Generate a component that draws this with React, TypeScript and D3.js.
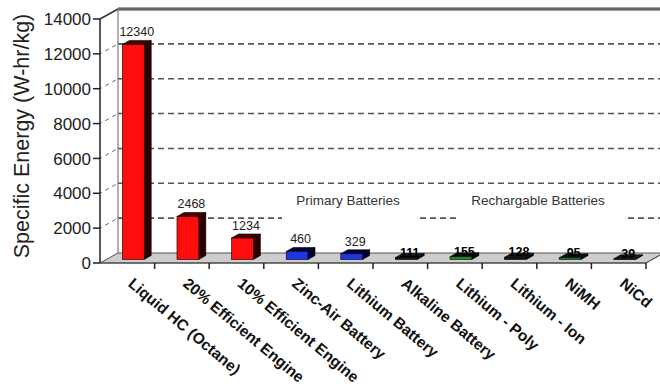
import React from 'react';
import * as d3 from 'd3';

const categories = [
  'Liquid HC (Octane)',
  '20% Efficient Engine',
  '10% Efficient Engine',
  'Zinc-Air Battery',
  'Lithium Battery',
  'Alkaline Battery',
  'Lithium - Poly',
  'Lithium - Ion',
  'NiMH',
  'NiCd',
];
const values = [12340, 2468, 1234, 460, 329, 111, 155, 128, 95, 39];
const barKinds = ['fuel', 'fuel', 'fuel', 'primary', 'primary', 'dark', 'green', 'dark', 'green', 'dark'];
const yTicks = [0, 2000, 4000, 6000, 8000, 10000, 12000, 14000];
const groupLabels = ['Primary Batteries', 'Rechargable Batteries'];

const W = 660;
const H = 392;
const DX = 18;
const DY = -10;

const palette: Record<string, { front: string; side: string; top: string }> = {
  fuel: { front: '#ff0d0d', side: '#2a0000', top: '#4a0000' },
  primary: { front: '#1f35e0', side: '#00002a', top: '#000040' },
  dark: { front: '#141414', side: '#050505', top: '#1a1a1a' },
  green: { front: '#1f8a2a', side: '#050505', top: '#111' },
};

export default function App() {
  const y = d3.scaleLinear().domain([0, 14000]).range([263, 19]);
  const x = d3.scaleBand<string>().domain(categories).range([100, 646]).padding(0);
  const bw = x.bandwidth();
  const w = bw * 0.4;
  const ox = 6, oy = -3.5, ex = 7, ey = -4;
  const y0 = y(0);
  const top = y(14000);
  const font = 'Arial, "Liberation Sans", Helvetica, sans-serif';

  const gridSegs = (v: number) => {
    if (v === 2000) return [[118, 282], [420, 456], [628, 660]];
    return [[118, 660]];
  };

  return (
    <svg width={W} height={H} style={{ position: 'absolute', left: 0, top: 0, background: '#fff' }} fontFamily={font}>
      {/* back wall top */}
      <line x1={100 + DX} x2={W} y1={top + DY} y2={top + DY} stroke="#444" strokeWidth={3} />
      <line x1={100 + DX} x2={W} y1={top + DY} y2={top + DY} stroke="#888" strokeWidth={1} />
      {/* wall left edge */}
      <line x1={100 + DX} x2={100 + DX} y1={top + DY} y2={y0 + DY} stroke="#999" strokeWidth={1.5} />
      {/* gridlines */}
      {yTicks.filter(t => t > 0 && t < 14000).map(t =>
        gridSegs(t).map(([a, b], i) => (
          <line key={`g${t}-${i}`} x1={a} x2={b} y1={y(t) + DY} y2={y(t) + DY} stroke="#555" strokeWidth={1.6} strokeDasharray="6,4" />
        ))
      )}
      {/* diagonal connectors */}
      {yTicks.filter(t => t > 0 && t < 14000).map(t => (
        <line key={`d${t}`} x1={100} y1={y(t)} x2={100 + DX} y2={y(t) + DY} stroke="#666" strokeWidth={1} strokeDasharray="4,4" strokeDashoffset={-6} />
      ))}
      <line x1={100} y1={top} x2={100 + DX} y2={top + DY} stroke="#333" strokeWidth={1.5} />
      {/* floor */}
      <polygon
        points={`100,${y0} ${100 + DX},${y0 + DY} ${W + 20},${y0 + DY} ${646 + DX},${y0 + DY} ${646},${y0}`}
        fill="#cdcdcd" stroke="#555" strokeWidth={1}
      />
      <line x1={646} y1={y0} x2={646 + 14} y2={y0 - 8} stroke="#555" strokeWidth={1} />
      {/* group labels */}
      <text x={348} y={205} textAnchor="middle" fontSize={13.5} fill="#333">{groupLabels[0]}</text>
      <text x={538} y={205} textAnchor="middle" fontSize={13.5} fill="#333">{groupLabels[1]}</text>
      {/* bars */}
      {categories.map((c, i) => {
        const v = values[i];
        const col = palette[barKinds[i]];
        const x0 = (x(c) as number) + (bw - w) / 2 + ox;
        const x1 = x0 + w;
        const yt = y(v) + oy;
        const yb = y0 + oy;
        const dark = barKinds[i] === 'dark' || barKinds[i] === 'green';
        return (
          <g key={c}>
            <polygon points={`${x1},${yt} ${x1 + ex},${yt + ey} ${x1 + ex},${yb + ey} ${x1},${yb}`} fill={col.side} stroke="#000" strokeWidth={0.6} />
            <polygon points={`${x0},${yt} ${x0 + ex},${yt + ey} ${x1 + ex},${yt + ey} ${x1},${yt}`} fill={col.top} stroke="#000" strokeWidth={0.6} />
            <rect x={x0} y={yt} width={w} height={yb - yt} fill={col.front} stroke="#000" strokeWidth={0.6} />
            <text x={x0 + w / 2 + ex / 2} y={dark ? yt + ey + 3 : yt + ey - 4} textAnchor="middle" fontSize={12.5} fill={dark ? '#000' : '#222'} fontWeight={dark ? 'bold' : 'normal'}>{v}</text>
          </g>
        );
      })}
      {/* y axis */}
      <line x1={100} x2={100} y1={top} y2={y0} stroke="#222" strokeWidth={1.5} />
      <line x1={100} x2={646} y1={y0} y2={y0} stroke="#444" strokeWidth={1.2} />
      {yTicks.map(t => (
        <g key={`t${t}`}>
          <line x1={93} x2={100} y1={y(t)} y2={y(t)} stroke="#222" strokeWidth={1.5} />
          <text x={91} y={y(t)} dy="0.36em" textAnchor="end" fontSize={17} fill="#222">{t}</text>
        </g>
      ))}
      {/* x ticks */}
      {categories.slice(1).map(c => (
        <line key={`xt${c}`} x1={x(c) as number} x2={x(c) as number} y1={y0} y2={y0 + 6} stroke="#222" strokeWidth={1.5} />
      ))}
      <line x1={646} x2={646} y1={y0} y2={y0 + 6} stroke="#222" strokeWidth={1.5} />
      {/* category labels */}
      {categories.map(c => (
        <text key={`l${c}`} transform={`translate(${(x(c) as number) + bw / 2 + 7},${y0 + 14}) rotate(40)`} fontSize={15.5} fontWeight="bold" fill="#111" dy="0.7em">{c}</text>
      ))}
      {/* y label */}
      <text transform={`translate(29,136) rotate(-90)`} textAnchor="middle" fontSize={21.5} fill="#222">Specific Energy (W-hr/kg)</text>
    </svg>
  );
}
